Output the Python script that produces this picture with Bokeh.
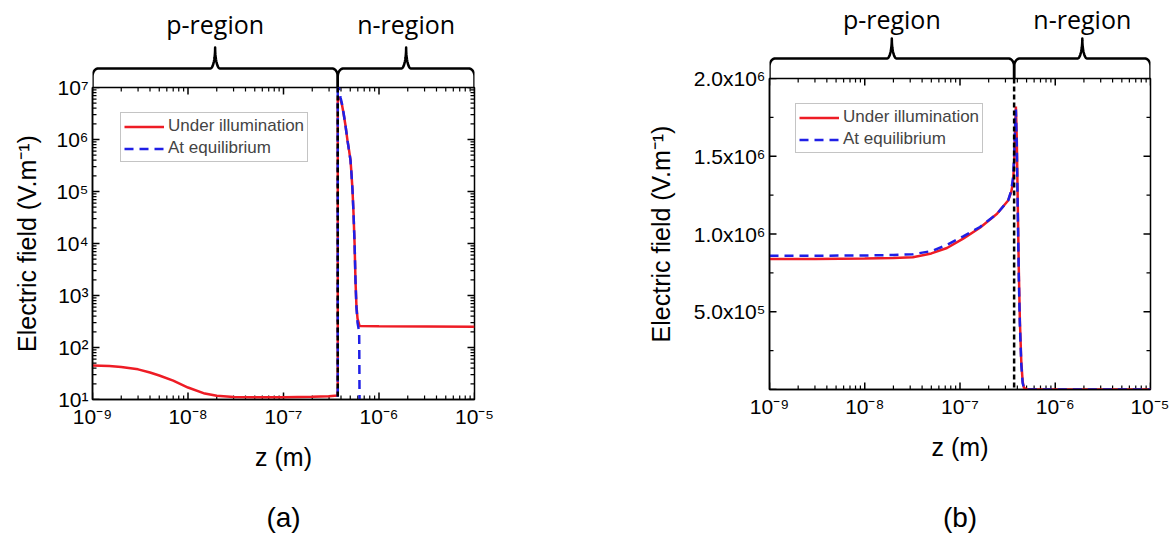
import numpy as np
from bokeh.plotting import figure
from bokeh.layouts import row, column
from bokeh.models import Range1d, FixedTicker, LinearScale, Span, CustomJSTickFormatter
from bokeh.core.properties import value
from bokeh.embed import file_html
from bokeh.resources import INLINE

# ---------------- data ----------------
Z_RANGE = [1e-9, 1e-5]
JUNCTION = 3.7e-7
REGIONS = ["p-region", "n-region"]
PANELS = ["(a)", "(b)"]
SERIES = ["Under illumination", "At equilibrium"]

X_TICKS = [1e-9, 1e-8, 1e-7, 1e-6, 1e-5]
X_TICK_LABELS = ["10⁻⁹", "10⁻⁸", "10⁻⁷", "10⁻⁶", "10⁻⁵"]

YA_RANGE = [1e1, 1e7]
YA_TICKS = [1e1, 1e2, 1e3, 1e4, 1e5, 1e6, 1e7]
YA_TICK_LABELS = ["10¹", "10²", "10³", "10⁴", "10⁵", "10⁶", "10⁷"]

YB_RANGE = [0, 2e6]
YB_TICKS = [0, 5e5, 1e6, 1.5e6, 2e6]
YB_MINOR = [2.5e5, 7.5e5, 1.25e6, 1.75e6]
YB_TICK_LABELS = ["", "5.0x10⁵", "1.0x10⁶", "1.5x10⁶", "2.0x10⁶"]

# panel (a): log-log
ZA_ILLUM = [1e-9, 1.5e-9, 2e-9, 3e-9, 4e-9, 5e-9, 7e-9, 1e-8, 1.5e-8, 2e-8, 3e-8, 5e-8,
            1e-7, 2e-7, 3e-7, 3.7e-7, 3.7e-7, 3.85e-7, 3.95e-7, 4.1e-7, 4.25e-7, 4.45e-7,
            4.68e-7, 4.85e-7, 5.03e-7, 5.15e-7, 5.28e-7, 5.41e-7, 5.55e-7, 5.67e-7,
            5.8e-7, 5.96e-7, 6.25e-7, 1e-6, 1e-5]
EA_ILLUM = [45, 44, 42, 38, 33, 29, 23, 17, 13, 11.8, 11.2, 11.0,
            11.0, 11.3, 11.6, 12, 6.5e6, 6.2e6, 5.9e6, 4.6e6, 3.2e6, 1.9e6,
            9.5e5, 6.3e5, 4.0e5, 2.2e5, 1.05e5, 3.8e4, 1.0e4, 2.0e3,
            6.5e2, 3.6e2, 2.6e2, 2.55e2, 2.5e2]

ZA_EQ = [1e-9, 3.7e-7, 3.7e-7, 3.8e-7, 3.95e-7, 4.1e-7, 4.25e-7, 4.45e-7, 4.68e-7, 4.85e-7,
         5.03e-7, 5.15e-7, 5.28e-7, 5.41e-7, 5.55e-7, 5.67e-7, 5.8e-7, 5.96e-7, 6.2e-7,
         6.3e-7, 1e-5]
EA_EQ = [1.0, 1.0, 1.3e7, 1.0e7, 6.5e6, 4.8e6, 3.3e6, 1.9e6, 9.5e5, 6.3e5,
         4.0e5, 2.2e5, 1.05e5, 3.8e4, 1.0e4, 2.0e3, 6.0e2, 3.0e2, 2.0e2,
         1.0, 1.0]

# panel (b): log-linear
ZB_ILLUM = [1e-9, 3e-9, 1e-8, 2e-8, 3.2e-8, 5e-8, 7.3e-8, 1.08e-7, 1.62e-7, 2.45e-7,
            3.2e-7, 3.45e-7, 3.6e-7, 3.7e-7, 3.8e-7, 3.86e-7, 3.95e-7, 4.05e-7, 4.15e-7,
            4.25e-7, 4.4e-7, 4.55e-7, 4.7e-7, 5e-7, 1e-6, 1e-5]
EB_ILLUM = [8.4e5, 8.4e5, 8.42e5, 8.45e5, 8.5e5, 8.75e5, 9.1e5, 9.7e5, 1.04e6, 1.13e6,
            1.215e6, 1.27e6, 1.33e6, 1.45e6, 1.68e6, 1.82e6, 1.6e6, 1.15e6, 7.5e5,
            4.5e5, 1.8e5, 5e4, 1e4, 2e3, 4e2, 3e2]

ZB_EQ = [1e-9, 3e-9, 1e-8, 2e-8, 3.2e-8, 5e-8, 7.3e-8, 1.08e-7, 1.62e-7, 2.45e-7,
         3.2e-7, 3.45e-7, 3.6e-7, 3.7e-7, 3.8e-7, 3.86e-7, 3.95e-7, 4.05e-7, 4.15e-7,
         4.25e-7, 4.4e-7, 4.55e-7, 4.7e-7, 5e-7, 1e-6, 1e-5]
EB_EQ = [8.6e5, 8.6e5, 8.62e5, 8.65e5, 8.7e5, 8.9e5, 9.3e5, 9.85e5, 1.045e6, 1.13e6,
         1.215e6, 1.28e6, 1.36e6, 1.5e6, 1.72e6, 1.8e6, 1.55e6, 1.1e6, 7e5,
         4.2e5, 1.6e5, 4e4, 8e3, 0, 0, 0]

# ---------------- style ----------------
RED = "#ee1c25"
BLUE = "#1f1fe6"
TICK_FONT = "Liberation Sans"
BRACE_FONT = "Open Sans"
MAJOR_LEN = 7
MINOR_LEN = 4

X_MINOR = [m * 10.0 ** e for e in range(-9, -5) for m in range(2, 10)]
YA_MINOR = [m * 10.0 ** e for e in range(1, 7) for m in range(2, 10)]

FMT_CODE = """
let best = 0, bd = Infinity;
for (let i = 0; i < tk.length; i++) {
  const d = islog ? Math.abs(Math.log10(tk[i]) - Math.log10(tick)) : Math.abs(tk[i] - tick);
  if (d < bd) { bd = d; best = i; }
}
return lb[best];
"""


def fmt(tks, labels, log):
    return CustomJSTickFormatter(args=dict(tk=list(tks), lb=list(labels), islog=log), code=FMT_CODE)


def style_axis(ax):
    ax.axis_line_color = "black"
    ax.axis_line_width = 1.5
    ax.major_tick_in = 0
    ax.major_tick_out = 0
    ax.minor_tick_in = 0
    ax.minor_tick_out = 0
    ax.major_label_text_font = TICK_FONT
    ax.major_label_text_font_size = "21px"
    ax.major_label_text_color = "black"
    ax.axis_label_text_font = TICK_FONT
    ax.axis_label_text_font_size = "25px"
    ax.axis_label_text_font_style = "normal"
    ax.axis_label_text_color = "black"


def brace_path(lo, hi, h, peak, rx=0.06, ry=8, rs=0.05, n=14):
    a, b = np.log10(lo), np.log10(hi)
    m = (a + b) / 2
    t = np.linspace(0, np.pi / 2, n)
    xs = [a]
    ys = [0]
    xs += list(a + rx - rx * np.cos(t)); ys += list(h - ry + ry * np.sin(t))
    xs += list(m - rs + rs * np.sin(t)); ys += list(h + peak - peak * np.cos(t))
    xs += list(m + rs - rs * np.cos(t)); ys += list(h + peak - peak * np.sin(t))
    xs += list(b - rx + rx * np.sin(t)); ys += list(h - ry + ry * np.cos(t))
    xs += [b]; ys += [0]
    return list(10 ** np.array(xs)), ys, 10 ** m


def inner_ticks(p, fw, fh, xt, xm, yt, ym):
    """Inward-pointing tick marks on all four frame sides (pixel ranges for tick length)."""
    p.extra_x_ranges = {"px": Range1d(0, fw)}
    p.extra_y_ranges = {"py": Range1d(0, fh)}
    p.extra_x_scales = {"px": LinearScale()}
    p.extra_y_scales = {"py": LinearScale()}
    for ticks, ln, lw in ((xt, MAJOR_LEN, 1.5), (xm, MINOR_LEN, 1.2)):
        n = len(ticks)
        p.segment(x0=ticks, y0=[0] * n, x1=ticks, y1=[ln] * n, y_range_name="py",
                  line_color="black", line_width=lw)
        p.segment(x0=ticks, y0=[fh] * n, x1=ticks, y1=[fh - ln] * n, y_range_name="py",
                  line_color="black", line_width=lw)
    for ticks, ln, lw in ((yt, MAJOR_LEN, 1.5), (ym, MINOR_LEN, 1.2)):
        n = len(ticks)
        p.segment(x0=[0] * n, y0=ticks, x1=[ln] * n, y1=ticks, x_range_name="px",
                  line_color="black", line_width=lw)
        p.segment(x0=[fw] * n, y0=ticks, x1=[fw - ln] * n, y1=ticks, x_range_name="px",
                  line_color="black", line_width=lw)


def make_panel(width, bl, br, brace_h, brace_y, brace_peak, text_y, main_h, bottom,
               ylog, yrange, ylab_standoff, legend_loc, zs_i, es_i, zs_e, es_e, panel_label):
    OVER = 14
    main = figure(width=width, height=main_h, x_axis_type="log",
                  y_axis_type="log" if ylog else "linear",
                  x_range=Range1d(*Z_RANGE), y_range=Range1d(*yrange),
                  min_border_left=bl, min_border_right=br, min_border_top=OVER,
                  min_border_bottom=bottom, margin=(-OVER, 0, 0, 0),
                  output_backend="svg", toolbar_location=None,
                  border_fill_color=None, background_fill_color="white")
    main.grid.visible = False
    main.outline_line_color = "black"
    main.outline_line_width = 1.5

    xa = main.xaxis[0]
    xa.ticker = FixedTicker(ticks=X_TICKS, minor_ticks=X_MINOR)
    xa.formatter = fmt(X_TICKS, X_TICK_LABELS, True)
    xa.axis_label = "z (m)"
    style_axis(xa)
    xa.major_label_standoff = 5
    xa.axis_label_standoff = 12

    ya = main.yaxis[0]
    if ylog:
        yt, ym = YA_TICKS, YA_MINOR
        ya.formatter = fmt(YA_TICKS, YA_TICK_LABELS, True)
    else:
        yt, ym = YB_TICKS, YB_MINOR
        ya.formatter = fmt(YB_TICKS, YB_TICK_LABELS, False)
    ya.ticker = FixedTicker(ticks=yt, minor_ticks=ym)
    ya.axis_label = "Electric field (V.m⁻¹)"
    style_axis(ya)
    ya.major_label_standoff = 4
    ya.axis_label_standoff = ylab_standoff

    fw = width - bl - br
    fh = main_h - OVER - bottom
    inner_ticks(main, fw, fh, X_TICKS, X_MINOR, yt, ym)

    main.line(zs_i, es_i, line_color=RED, line_width=2.5, legend_label=SERIES[0])
    main.line(zs_e, es_e, line_color=BLUE, line_width=2.5, line_dash="9 6", legend_label=SERIES[1])
    main.add_layout(Span(location=JUNCTION, dimension="height", line_color="black",
                         line_width=2.5, line_dash="5 3"))

    lg = main.legend[0]
    lg.location = legend_loc
    lg.margin = 0
    lg.padding = 3
    lg.spacing = 2
    lg.glyph_width = 40
    lg.glyph_height = 19
    lg.label_height = 19
    lg.label_standoff = 4
    lg.label_text_font = TICK_FONT
    lg.label_text_font_size = "17px"
    lg.border_line_color = "#8a8a8a"
    lg.border_line_width = 1
    lg.background_fill_color = "white"
    lg.background_fill_alpha = 1

    br_fig = figure(width=width, height=brace_h, x_axis_type="log", x_range=main.x_range,
                    y_range=Range1d(0, brace_h), x_axis_location=None, y_axis_location=None,
                    min_border_left=bl, min_border_right=br, min_border_top=0, min_border_bottom=0,
                    output_backend="svg", toolbar_location=None,
                    outline_line_color=None, border_fill_color=None, background_fill_color=None)
    br_fig.grid.visible = False
    bounds = [(Z_RANGE[0], JUNCTION), (JUNCTION, Z_RANGE[1])]
    tx = []
    for (lo, hi) in bounds:
        xs, ys, mid = brace_path(lo, hi, brace_y, brace_peak)
        br_fig.line(xs, ys, line_color="black", line_width=2.5, line_join="round")
        tx.append(mid)
    br_fig.text(x=tx, y=[text_y] * 2, text=REGIONS, text_align="center", text_baseline="middle",
                text_font=value(BRACE_FONT), text_font_size="25px", text_color="black")

    lab_h = 60
    lab = figure(width=width, height=lab_h, x_range=Range1d(0, 1), y_range=Range1d(0, lab_h),
                 x_axis_location=None, y_axis_location=None,
                 min_border_left=bl, min_border_right=br, min_border_top=0, min_border_bottom=0,
                 output_backend="svg", toolbar_location=None, outline_line_color=None)
    lab.grid.visible = False
    lab.text(x=[0.5], y=[21], text=[panel_label], text_align="center", text_baseline="middle",
             text_font=value(TICK_FONT), text_font_size="28px", text_color="black")

    return column(br_fig, main, lab, spacing=0)


left = make_panel(width=600, bl=92, br=126, brace_h=87, brace_y=19, brace_peak=21, text_y=64,
                  main_h=405, bottom=79, ylog=True, yrange=YA_RANGE, ylab_standoff=12,
                  legend_loc=(28, 237), zs_i=ZA_ILLUM, es_i=EA_ILLUM, zs_e=ZA_EQ, es_e=EA_EQ,
                  panel_label=PANELS[0])
right = make_panel(width=569, bl=169, br=19, brace_h=78, brace_y=20, brace_peak=20, text_y=60,
                   main_h=414, bottom=89, ylog=False, yrange=YB_RANGE, ylab_standoff=16,
                   legend_loc=(26, 236), zs_i=ZB_ILLUM, es_i=EB_ILLUM, zs_e=ZB_EQ, es_e=EB_EQ,
                   panel_label=PANELS[1])

layout = row(left, right, spacing=0)
open("out.html", "w").write(file_html(layout, INLINE))
